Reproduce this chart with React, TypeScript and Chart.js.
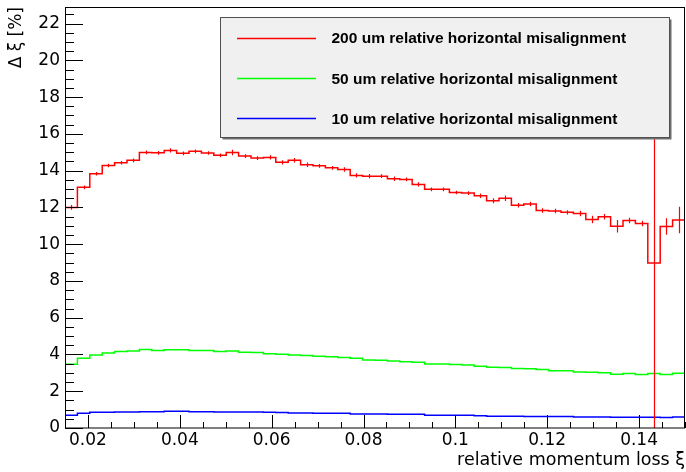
import React, { useEffect, useRef } from 'react';
import { Chart, registerables } from 'chart.js';

Chart.register(...registerables);

// ---- axis definition ----
const X_MIN = 0.015;
const X_MAX = 0.15;
const BIN_COUNT = 50;
const Y_MIN = 0;
const Y_MAX = 22.9;

const xTickValues = [0.02, 0.04, 0.06, 0.08, 0.1, 0.12, 0.14];
const xTickLabels = ['0.02', '0.04', '0.06', '0.08', '0.1', '0.12', '0.14'];
const yTickValues = [0, 2, 4, 6, 8, 10, 12, 14, 16, 18, 20, 22];
const yTickLabels = ['0', '2', '4', '6', '8', '10', '12', '14', '16', '18', '20', '22'];

const xTitle = 'relative momentum loss ξ';
const yTitle = 'Δ ξ [%]';

// ---- series ----
const seriesLabels = [
  '200 um relative horizontal misalignment',
  '50 um relative horizontal misalignment',
  '10 um relative horizontal misalignment',
];
const seriesColors = ['#ff0000', '#00ff00', '#0000ff'];

const misalign200 = [
  12.0, 13.09, 13.83, 14.28, 14.43, 14.56, 14.99, 14.97, 15.1, 14.94,
  15.05, 14.96, 14.83, 14.99, 14.79, 14.68, 14.72, 14.45, 14.56, 14.32,
  14.26, 14.15, 14.06, 13.74, 13.7, 13.7, 13.56, 13.52, 13.25, 12.98,
  12.98, 12.81, 12.78, 12.63, 12.36, 12.5, 12.12, 12.18, 11.83, 11.8,
  11.73, 11.67, 11.34, 11.49, 10.98, 11.29, 11.13, 8.97, 10.96, 11.31,
];
const misalign200Err = [
  0.13, 0.1, 0.1, 0.1, 0.1, 0.1, 0.1, 0.1, 0.12, 0.1,
  0.1, 0.1, 0.1, 0.15, 0.1, 0.1, 0.12, 0.12, 0.12, 0.12,
  0.1, 0.1, 0.12, 0.12, 0.12, 0.1, 0.12, 0.1, 0.12, 0.1,
  0.1, 0.1, 0.1, 0.12, 0.14, 0.15, 0.12, 0.12, 0.12, 0.12,
  0.12, 0.15, 0.2, 0.15, 0.34, 0.15, 0.15, 11, 0.45, 0.72,
];
const misalign50 = [
  3.47, 3.79, 3.97, 4.08, 4.16, 4.19, 4.27, 4.21, 4.25, 4.25,
  4.21, 4.21, 4.16, 4.19, 4.12, 4.1, 4.04, 4.01, 3.97, 3.94,
  3.9, 3.87, 3.83, 3.79, 3.7, 3.69, 3.65, 3.61, 3.58, 3.48,
  3.48, 3.45, 3.43, 3.36, 3.3, 3.29, 3.23, 3.22, 3.18, 3.12,
  3.11, 3.05, 3.03, 3.01, 2.92, 2.96, 2.91, 2.96, 2.91, 2.98,
];
const misalign10 = [
  0.69, 0.8, 0.85, 0.85, 0.87, 0.87, 0.89, 0.89, 0.91, 0.91,
  0.89, 0.89, 0.87, 0.87, 0.87, 0.87, 0.85, 0.84, 0.82, 0.82,
  0.8, 0.8, 0.8, 0.76, 0.76, 0.76, 0.75, 0.75, 0.75, 0.69,
  0.69, 0.69, 0.69, 0.67, 0.64, 0.64, 0.64, 0.62, 0.62, 0.62,
  0.62, 0.6, 0.6, 0.6, 0.58, 0.58, 0.58, 0.58, 0.57, 0.6,
];

const seriesValues = [misalign200, misalign50, misalign10];
const seriesErrors: (number[] | null)[] = [misalign200Err, null, null];

const binWidth = (X_MAX - X_MIN) / BIN_COUNT;
const binEdge = (i: number) => X_MIN + i * binWidth;
const binCenter = (i: number) => X_MIN + (i + 0.5) * binWidth;

const AXIS_FONT = { family: '"DejaVu Sans", sans-serif', size: 17 };
const X_TITLE_FONT = { family: '"DejaVu Sans", sans-serif', size: 17.5 };

const rootPlugin = {
  id: 'rootStyle',
  afterDatasetsDraw(chart: any) {
    const { ctx, chartArea: a, scales } = chart;
    const x = scales.x;
    const y = scales.y;
    ctx.save();
    ctx.beginPath();
    ctx.rect(a.left, a.top, a.right - a.left, a.bottom - a.top);
    ctx.clip();
    seriesErrors.forEach((errs, k) => {
      if (!errs) return;
      const vals = seriesValues[k];
      ctx.strokeStyle = seriesColors[k];
      ctx.lineWidth = 1.2;
      ctx.beginPath();
      vals.forEach((v, i) => {
        const px = Math.round(x.getPixelForValue(binCenter(i))) + 0.5;
        ctx.moveTo(px, y.getPixelForValue(v + errs[i]));
        ctx.lineTo(px, y.getPixelForValue(v - errs[i]));
      });
      ctx.stroke();
    });
    ctx.restore();
  },
  afterDraw(chart: any) {
    const { ctx, chartArea: a, scales } = chart;
    const x = scales.x;
    const y = scales.y;
    ctx.save();
    // frame
    ctx.strokeStyle = '#000';
    ctx.lineWidth = 1;
    ctx.strokeRect(Math.round(a.left) + 0.5, Math.round(a.top) + 0.5,
      Math.round(a.right - a.left) - 1, Math.round(a.bottom - a.top) - 0.5);
    // y ticks (inside)
    ctx.beginPath();
    for (let v = Y_MIN; v <= Y_MAX + 1e-9; v += 0.5) {
      const major = Math.abs(v / 2 - Math.round(v / 2)) < 1e-6;
      const py = Math.round(y.getPixelForValue(v)) + 0.5;
      ctx.moveTo(a.left, py);
      ctx.lineTo(a.left + (major ? 18 : 9), py);
    }
    // x ticks (inside)
    for (let i = 0; ; i++) {
      const v = 0.015 + i * 0.005;
      if (v > X_MAX + 1e-9) break;
      const major = xTickValues.some((t) => Math.abs(t - v) < 1e-6);
      const px = Math.round(x.getPixelForValue(v)) + 0.5;
      ctx.moveTo(px, a.bottom);
      ctx.lineTo(px, a.bottom - (major ? 13 : 6));
    }
    ctx.stroke();

    // legend
    const L = 220.5, T = 17.5, R = 669.5, B = 137.5;
    ctx.fillStyle = '#6e6e6e';
    ctx.fillRect(L + 2, T + 2, R - L, B - T);
    ctx.fillStyle = '#f0f0f0';
    ctx.fillRect(L, T, R - L, B - T);
    ctx.strokeStyle = '#505050';
    ctx.lineWidth = 1;
    ctx.strokeRect(L, T, R - L, B - T);
    ctx.font = 'bold 15.5px "Liberation Sans", Arial, sans-serif';
    ctx.textAlign = 'left';
    ctx.textBaseline = 'alphabetic';
    seriesLabels.forEach((label, k) => {
      const ry = T + 20.2 + k * 40.3;
      ctx.strokeStyle = seriesColors[k];
      ctx.lineWidth = 1.5;
      ctx.beginPath();
      ctx.moveTo(237, Math.round(ry) + 0.5);
      ctx.lineTo(316, Math.round(ry) + 0.5);
      ctx.stroke();
      ctx.fillStyle = '#000';
      ctx.fillText(label, 331.5, ry + 5.6);
    });
    ctx.restore();
  },
};

export default function App() {
  const ref = useRef<HTMLCanvasElement>(null);
  useEffect(() => {
    const canvas = ref.current;
    if (!canvas) return;
    const datasets = seriesValues.map((vals, k) => ({
      label: seriesLabels[k],
      data: [
        ...vals.map((v, i) => ({ x: binEdge(i), y: v })),
        { x: X_MAX, y: vals[vals.length - 1] },
      ],
      borderColor: seriesColors[k],
      backgroundColor: seriesColors[k],
      borderWidth: 1.5,
      pointRadius: 0,
      stepped: 'before' as const,
      fill: false,
    }));
    const chart = new Chart(canvas, {
      type: 'line',
      data: { datasets },
      options: {
        responsive: false,
        animation: false,
        events: [],
        layout: { padding: { left: 0, right: 1, top: 7, bottom: 0 } },
        plugins: { legend: { display: false }, tooltip: { enabled: false } },
        scales: {
          x: {
            type: 'linear',
            min: X_MIN,
            max: X_MAX,
            grid: { display: false, drawTicks: false, tickLength: 0 },
            border: { display: false },
            afterBuildTicks: (s: any) => {
              s.ticks = xTickValues.map((v) => ({ value: v }));
            },
            afterFit: (s: any) => {
              s.height = 44;
              s.paddingLeft = 0;
              s.paddingRight = 0;
            },
            ticks: {
              autoSkip: false,
              maxRotation: 0,
              minRotation: 0,
              padding: 2,
              color: '#000',
              font: AXIS_FONT,
              callback: (_v: any, i: number) => xTickLabels[i],
            },
            title: {
              display: true,
              text: xTitle,
              align: 'end',
              color: '#000',
              font: X_TITLE_FONT,
              padding: { top: 0, bottom: 1 },
            },
          },
          y: {
            type: 'linear',
            min: Y_MIN,
            max: Y_MAX,
            grid: { display: false, drawTicks: false, tickLength: 0 },
            border: { display: false },
            afterBuildTicks: (s: any) => {
              s.ticks = yTickValues.map((v) => ({ value: v }));
            },
            afterFit: (s: any) => {
              s.width = 65;
              s.paddingTop = 0;
              s.paddingBottom = 0;
            },
            ticks: {
              autoSkip: false,
              padding: 5,
              color: '#000',
              font: AXIS_FONT,
              callback: (_v: any, i: number) => yTickLabels[i],
            },
            title: {
              display: true,
              text: yTitle,
              align: 'end',
              color: '#000',
              font: AXIS_FONT,
              padding: { top: 6, bottom: 0 },
            },
          },
        },
      },
      plugins: [rootPlugin],
    });
    return () => chart.destroy();
  }, []);
  return (
    <div style={{ position: 'absolute', left: 0, top: 0, width: 686, height: 472, background: '#fff' }}>
      <canvas ref={ref} width={686} height={472} style={{ display: 'block' }} />
    </div>
  );
}
